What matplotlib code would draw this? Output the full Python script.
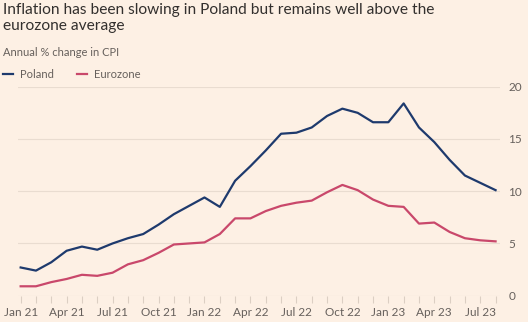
import numpy as np
import matplotlib
matplotlib.use("Agg")
import matplotlib.pyplot as plt

# monthly CPI, Jan 2021 .. Aug 2023
months = ["Jan 21", "Feb 21", "Mar 21", "Apr 21", "May 21", "Jun 21", "Jul 21", "Aug 21",
          "Sep 21", "Oct 21", "Nov 21", "Dec 21", "Jan 22", "Feb 22", "Mar 22", "Apr 22",
          "May 22", "Jun 22", "Jul 22", "Aug 22", "Sep 22", "Oct 22", "Nov 22", "Dec 22",
          "Jan 23", "Feb 23", "Mar 23", "Apr 23", "May 23", "Jun 23", "Jul 23", "Aug 23"]
poland = [2.7, 2.4, 3.2, 4.3, 4.7, 4.4, 5.0, 5.5, 5.9, 6.8, 7.8, 8.6,
          9.4, 8.5, 11.0, 12.4, 13.9, 15.5, 15.6, 16.1, 17.2, 17.9, 17.5, 16.6,
          16.6, 18.4, 16.1, 14.7, 13.0, 11.5, 10.8, 10.1]
eurozone = [0.9, 0.9, 1.3, 1.6, 2.0, 1.9, 2.2, 3.0, 3.4, 4.1, 4.9, 5.0,
            5.1, 5.9, 7.4, 7.4, 8.1, 8.6, 8.9, 9.1, 9.9, 10.6, 10.1, 9.2,
            8.6, 8.5, 6.9, 7.0, 6.1, 5.5, 5.3, 5.2]
yticks = [0, 5, 10, 15, 20]

bg = "#FDF0E4"
c_pol = "#1E3A6D"
c_eur = "#C9486B"
grid_c = "#E9DCD0"
txt = "#33302E"
sub = "#66605C"

plt.rcParams['font.family'] = ['Lato', 'DejaVu Sans']

fig = plt.figure(figsize=(5.28, 3.22), dpi=100, facecolor=bg)
ax = fig.add_axes([0.0333, 0.0817, 0.914, 0.649], facecolor=bg)

x = np.arange(len(months))
ax.plot(x, poland, color=c_pol, lw=1.6, label="Poland", solid_joinstyle="round")
ax.plot(x, eurozone, color=c_eur, lw=1.6, label="Eurozone", solid_joinstyle="round")

ax.set_xlim(-0.2, 31.3)
ax.set_ylim(0, 20)
ax.set_yticks(yticks)
ax.yaxis.tick_right()
ax.tick_params(axis="y", length=0, pad=6, labelsize=8.5, labelcolor=sub)
for y in yticks:
    ax.axhline(y, color=grid_c if y else "#DCCFC3", lw=0.8, zorder=0)

ax.set_xticks(x, minor=True)
ax.set_xticks(x[::3])
ax.set_xticklabels(months[::3])
ax.tick_params(axis="x", which="both", length=5, color="#DCCFC3", width=0.8,
               labelsize=8.5, labelcolor=sub, pad=3)
for s in ax.spines.values():
    s.set_visible(False)

fig.text(0.006, 0.99, "Inflation has been slowing in Poland but remains well above the\neurozone average",
         fontsize=11.2, color=txt, va="top", ha="left", linespacing=1.2)
fig.text(0.006, 0.838, "Annual % change in CPI", fontsize=8, color=sub, va="center", ha="left")
ax.legend(ncol=2, frameon=False, loc="center left", bbox_to_anchor=(0.006, 0.77),
          bbox_transform=fig.transFigure, borderaxespad=0, borderpad=0,
          handlelength=0.9, handletextpad=0.6, columnspacing=2.1,
          fontsize=8, labelcolor=sub)

fig.savefig("out.png", dpi=100, facecolor=bg)
